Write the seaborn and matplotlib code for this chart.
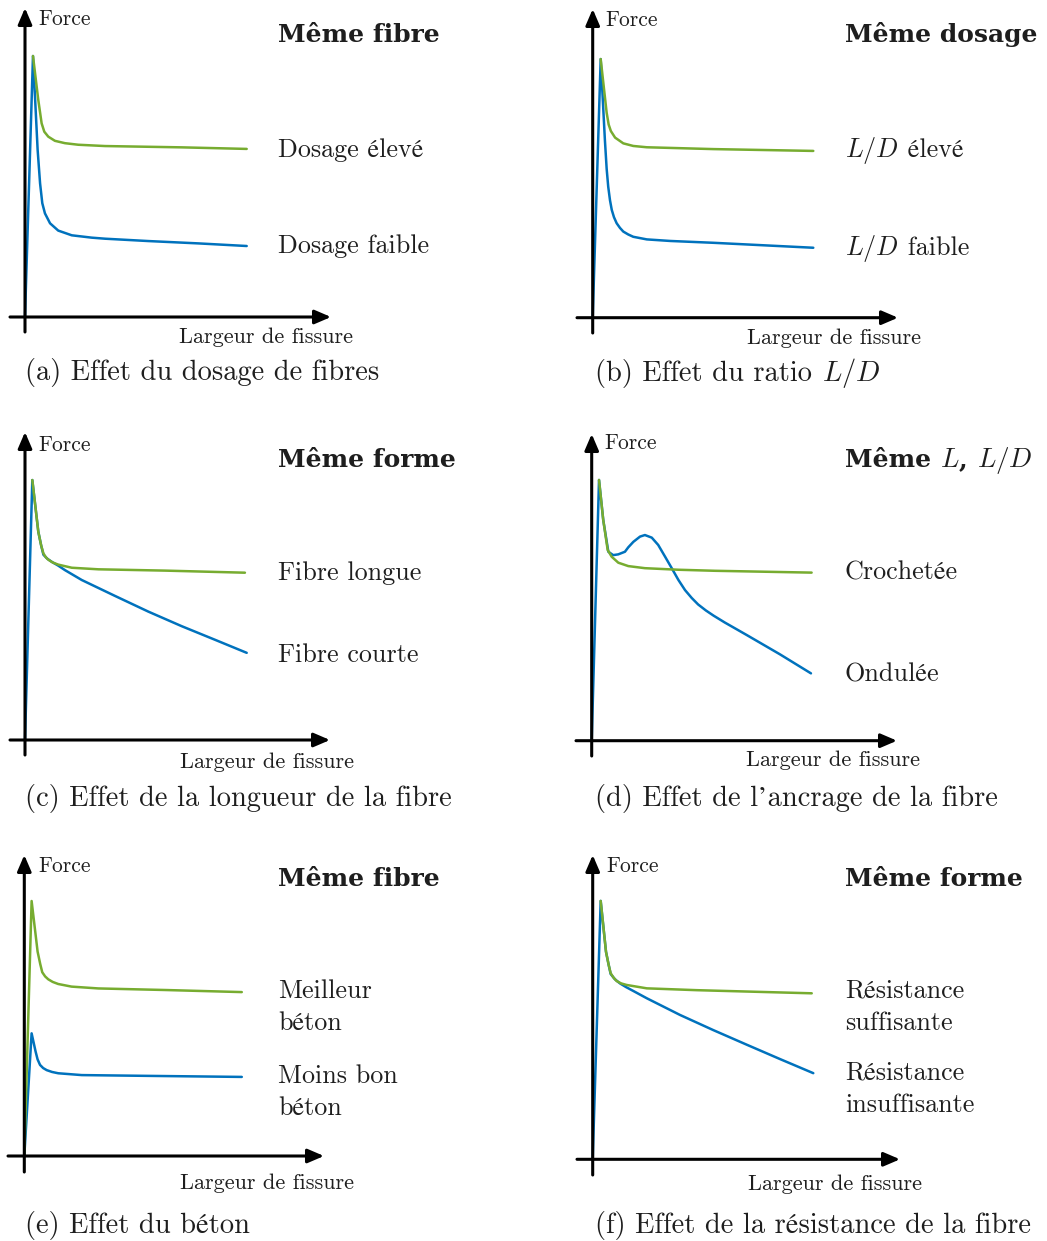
import re
import matplotlib
matplotlib.use("Agg")
import matplotlib.pyplot as plt
import seaborn as sns

sns.set_theme(style="white")
plt.rcParams['font.family'] = ['cmr10', 'STIXGeneral', 'DejaVu Serif']
plt.rcParams['mathtext.fontset'] = 'cm'
plt.rcParams['axes.unicode_minus'] = False

GREEN = '#77AC30'
BLUE = '#0072BD'

# ---------------- data (arbitrary units: crack width 0-100, force peak = 100)
a_green_x = [3.6, 6.0, 7.5, 8.7, 10.5, 13.5, 18.0, 24.0, 36.1, 70.7, 100]
a_green_y = [100, 83.1, 74.2, 71.0, 69.1, 67.5, 66.6, 66.0, 65.5, 65.0, 64.4]
a_blue_x = [0, 3.6, 5.7, 6.8, 7.8, 9.0, 11.3, 15.0, 21.1, 30.1, 36.1, 55.6, 78.2, 100]
a_blue_y = [0, 100, 64.0, 51.2, 43.6, 39.7, 35.9, 33.1, 31.3, 30.4, 30.0, 29.1, 28.2, 27.2]

b_green_x = [3.6, 6.3, 7.2, 8.2, 10.1, 13.8, 18.3, 24.4, 54.4, 99.5]
b_green_y = [99.1, 78.5, 74.0, 71.5, 69.0, 66.8, 65.8, 65.3, 64.6, 63.9]
b_blue_x = [0, 3.6, 5.5, 6.3, 7.0, 7.8, 8.6, 9.6, 10.8, 12.3, 13.8, 16.0, 18.3,
            24.4, 35.0, 54.4, 99.5]
b_blue_y = [0, 99.1, 68.1, 57.0, 50.2, 45.0, 41.3, 38.5, 36.2, 34.4, 33.0, 31.9,
            31.0, 30.0, 29.4, 28.7, 26.8]

c_green_x = [3.3, 6.0, 7.3, 8.3, 9.4, 10.5, 12.5, 15.0, 21.1, 33.1, 63.1, 99.2]
c_green_y = [99.6, 79.8, 74.5, 71.5, 70.0, 69.1, 68.0, 67.2, 66.0, 65.4, 64.9, 64.1]
c_blue_x = [0, 3.3, 6.0, 7.3, 8.3, 10.0, 12.0, 15.0, 18.0, 25.6, 40.6, 55.6,
            70.7, 85.7, 100]
c_blue_y = [0, 99.6, 79.8, 74.5, 71.0, 69.5, 68.3, 66.8, 65.1, 61.3, 55.2, 49.2,
            43.6, 38.4, 33.4]

d_green_x = [3.3, 5.2, 7.2, 9.0, 12.0, 16.5, 24.0, 39.1, 55.6, 99.2]
d_green_y = [99.9, 84.6, 73.1, 70.5, 68.2, 66.9, 66.1, 65.5, 65.1, 64.4]
d_blue_x = [0, 3.3, 5.2, 7.5, 9.7, 12.0, 15.0, 16.5, 18.8, 21.8, 24.0, 27.1,
            30.0, 33.1, 36.1, 39.1, 42.1, 45.1, 48.0, 51.5, 55.0, 60.0, 69.9,
            84.9, 98.9]
d_blue_y = [0, 99.9, 84.6, 72.4, 71.1, 71.4, 72.4, 74.1, 76.2, 78.2, 78.8, 77.8,
            75.0, 70.5, 66.1, 61.6, 57.7, 54.7, 52.2, 49.9, 47.9, 45.3, 40.5,
            33.1, 25.8]

e_green_x = [0, 3.3, 6.0, 7.2, 8.1, 9.4, 10.8, 12.8, 15.3, 21.3, 33.4, 63.5, 98.1]
e_green_y = [0, 97.7, 78.3, 73.5, 70.4, 68.8, 67.7, 66.7, 65.9, 64.9, 64.2, 63.6, 62.8]
e_blue_x = [0, 3.3, 5.1, 6.0, 7.1, 8.5, 10.1, 12.5, 15.3, 25.9, 55.9, 98.1]
e_blue_y = [0, 47.0, 40.0, 37.0, 34.9, 33.7, 32.9, 32.2, 31.7, 31.0, 30.7, 30.3]

f_green_x = [3.6, 6.0, 7.2, 8.1, 9.4, 10.8, 12.8, 15.3, 24.4, 46.9, 98.8]
f_green_y = [99.0, 79.5, 74.5, 71.3, 69.6, 68.3, 67.4, 66.8, 65.5, 64.8, 63.6]
f_blue_x = [0, 3.6, 6.0, 7.2, 8.1, 10.0, 12.3, 15.0, 18.3, 24.4, 39.4, 54.4,
            69.5, 84.5, 99.5]
f_blue_y = [0, 99.0, 79.5, 74.5, 71.0, 69.0, 67.4, 66.0, 64.5, 61.7, 55.3, 49.5,
            43.9, 38.4, 33.0]

titles = ['Même fibre', 'Même dosage', 'Même forme',
          r'Même $L$, $L/D$', 'Même fibre', 'Même forme']
green_labels = ['Dosage élevé', r'$L/D$ élevé', 'Fibre longue',
                'Crochetée', 'Meilleur\nbéton', 'Résistance\nsuffisante']
blue_labels = ['Dosage faible', r'$L/D$ faible', 'Fibre courte',
               'Ondulée', 'Moins bon\nbéton', 'Résistance\ninsuffisante']
captions = ['(a) Effet du dosage de fibres', r'(b) Effet du ratio $L/D$',
            '(c) Effet de la longueur de la fibre',
            '(d) Effet de l’ancrage de la fibre',
            '(e) Effet du béton', '(f) Effet de la résistance de la fibre']
y_label = 'Force'
x_label = 'Largeur de fissure'

greens = [(a_green_x, a_green_y), (b_green_x, b_green_y), (c_green_x, c_green_y),
          (d_green_x, d_green_y), (e_green_x, e_green_y), (f_green_x, f_green_y)]
blues = [(a_blue_x, a_blue_y), (b_blue_x, b_blue_y), (c_blue_x, c_blue_y),
         (d_blue_x, d_blue_y), (e_blue_x, e_blue_y), (f_blue_x, f_blue_y)]

# ---------------- layout (pixels)
W, H = 1047, 1241
SX, SY = 2.217, 2.61  # pixels per data unit
# origin x, origin y, x-axis left, x-axis right, y-axis top, y-axis bottom
geom = [
    (25.0, 317.0, 10, 331, 8, 332),
    (592.7, 317.7, 577, 898, 9, 333),
    (25.0, 740.0, 10, 330, 432, 755),
    (591.7, 740.7, 576, 897, 434, 756),
    (24.3, 1156.0, 8, 324, 855, 1172),
    (592.7, 1159.3, 577, 900, 855, 1175),
]
# left x: Force, title/labels, x label, caption
tx_left = [(38, 278, 179, 25), (605, 845, 747, 595), (38, 278, 180, 25),
           (604, 845, 746, 595), (38, 278, 180, 25), (606, 845, 748, 595)]
# baselines: Force, title, green label, blue label, x label, caption
ty_base = [(25, 42, 157, 253, 343, 380), (26, 42, 157, 255, 344, 381),
           (451, 467, 580, 662, 768, 806), (449, 467, 580, 682, 766, 806),
           (872, 886, 998, 1083, 1189, 1233), (872, 886, 998, 1080, 1190, 1233)]

fig = plt.figure(figsize=(W / 100, H / 100), dpi=100)
fig.patch.set_facecolor('white')


def fx(px):
    return px / W


def fy(py):
    return 1 - py / H


SERIF = ['cmr10', 'STIXGeneral', 'DejaVu Serif']
BOLD = ['DejaVu Serif']
COL = '#1e1e1e'


def put_text(xpx, base, s, size, family, weight='normal', math_size=None):
    """Draw text; math pieces ($...$) are drawn as separate chained pieces."""
    parts = [p for p in re.split(r'(\$[^$]*\$)', s) if p != '']
    last = None
    for p in parts:
        sz = math_size if (math_size and p.startswith('$')) else size
        kw = dict(fontsize=sz, family=family, weight=weight, color=COL,
                  va='baseline', ha='left')
        if last is None:
            last = fig.text(fx(xpx), fy(base), p, **kw)
        else:
            last = fig.add_artist(plt.Annotation(
                p, xy=(1, fy(base)), xycoords=(last, 'figure fraction'), **kw))
    return last


for i in range(6):
    ox, oy, xl, xr, yt, yb = geom[i]
    ax = fig.add_axes([fx(xl), fy(yb), (xr - xl) / W, (yb - yt) / H])
    ax.set_xlim((xl - ox) / SX, (xr - ox) / SX)
    ax.set_ylim((oy - yb) / SY, (oy - yt) / SY)
    ax.axis('off')
    bx, by = blues[i]
    gx, gy = greens[i]
    sns.lineplot(x=bx, y=by, ax=ax, color=BLUE, lw=1.8, sort=False, estimator=None,
                 solid_joinstyle='round', solid_capstyle='round')
    sns.lineplot(x=gx, y=gy, ax=ax, color=GREEN, lw=1.8, sort=False, estimator=None,
                 solid_joinstyle='round', solid_capstyle='round')
    x0, x1 = ax.get_xlim()
    y0, y1 = ax.get_ylim()
    ap = dict(arrowstyle='-|>,head_length=0.7,head_width=0.3', lw=2.2,
              color='black', shrinkA=0, shrinkB=0, mutation_scale=14)
    ax.annotate('', xy=(x1, 0), xytext=(x0, 0), arrowprops=ap, annotation_clip=False)
    ax.annotate('', xy=(0, y1), xytext=(0, y0), arrowprops=ap, annotation_clip=False)

    lf, lt, lx, lc = tx_left[i]
    bf, bt, bg, bb, bxl, bc = ty_base[i]
    put_text(lf, bf, y_label, 15.5, SERIF)
    put_text(lt, bt, titles[i], 18, BOLD, weight='bold', math_size=19.5)
    for k, line in enumerate(green_labels[i].split('\n')):
        put_text(lt, bg + 32 * k, line, 18.8, SERIF)
    for k, line in enumerate(blue_labels[i].split('\n')):
        put_text(lt, bb + 32 * k, line, 18.8, SERIF)
    put_text(lx, bxl, x_label, 16, SERIF)
    put_text(lc, bc, captions[i], 20.5, SERIF)

fig.savefig('out.png', dpi=100, facecolor='white')
